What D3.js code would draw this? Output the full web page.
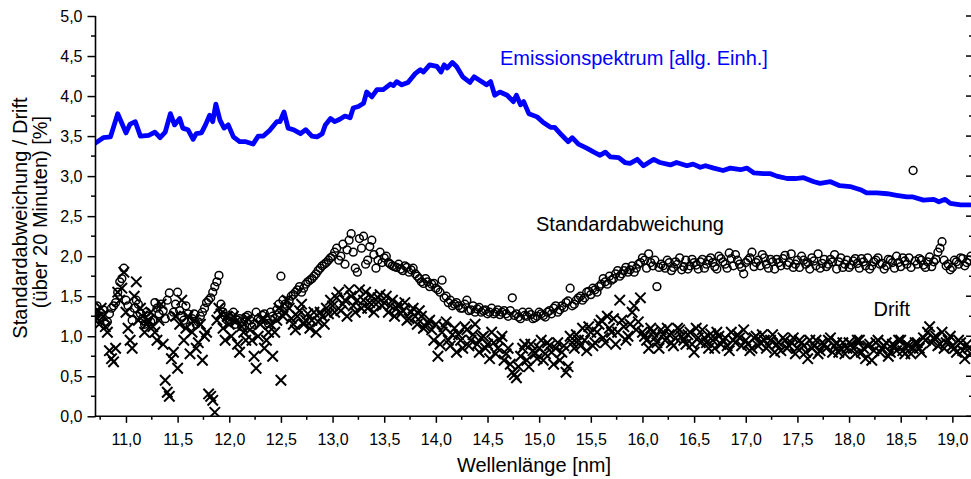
<!DOCTYPE html>
<html>
<head>
<meta charset="utf-8">
<script src="https://cdn.jsdelivr.net/npm/d3@7"></script>
<style>
  html, body { margin: 0; padding: 0; background: #fff; }
  svg { display: block; font-family: "Liberation Sans", Arial, sans-serif; }
</style>
</head>
<body>
<svg id="chart" width="971" height="479"></svg>
<script>
// Emission spectrum (arbitrary units, plotted on the same % scale)
const emissionWavelength = [10.70,10.78,10.85,10.92,10.96,11.00,11.04,11.09,11.14,11.22,11.28,11.33,11.38,11.43,11.47,11.52,11.55,11.60,11.65,11.68,11.73,11.77,11.81,11.84,11.87,11.91,11.95,11.99,12.04,12.10,12.16,12.23,12.28,12.33,12.39,12.46,12.49,12.53,12.57,12.62,12.69,12.74,12.80,12.85,12.90,12.93,12.98,13.02,13.07,13.12,13.17,13.20,13.25,13.30,13.33,13.38,13.43,13.49,13.56,13.59,13.62,13.67,13.73,13.80,13.85,13.88,13.94,14.01,14.05,14.08,14.11,14.16,14.20,14.26,14.33,14.37,14.43,14.49,14.53,14.57,14.62,14.69,14.75,14.78,14.82,14.85,14.90,14.98,15.04,15.11,15.15,15.22,15.28,15.32,15.38,15.46,15.53,15.59,15.64,15.69,15.77,15.83,15.88,15.95,16.01,16.06,16.11,16.17,16.27,16.33,16.43,16.49,16.56,16.61,16.69,16.78,16.85,16.95,17.01,17.08,17.17,17.24,17.30,17.40,17.48,17.56,17.66,17.72,17.82,17.91,18.01,18.11,18.17,18.27,18.37,18.46,18.56,18.62,18.72,18.82,18.87,18.93,18.98,19.08,19.17];
const emissionValue = [3.41,3.48,3.49,3.78,3.66,3.54,3.65,3.68,3.50,3.51,3.55,3.48,3.55,3.78,3.64,3.72,3.60,3.58,3.46,3.53,3.54,3.64,3.76,3.68,3.90,3.70,3.60,3.64,3.49,3.43,3.43,3.40,3.50,3.50,3.57,3.68,3.68,3.80,3.60,3.58,3.53,3.58,3.50,3.49,3.53,3.64,3.72,3.68,3.71,3.75,3.73,3.85,3.87,3.91,4.05,3.99,4.08,4.08,4.15,4.13,4.18,4.14,4.17,4.28,4.33,4.30,4.39,4.37,4.30,4.39,4.35,4.42,4.37,4.24,4.17,4.24,4.19,4.14,4.18,4.01,4.05,4.01,3.93,4.01,3.89,3.93,3.78,3.74,3.67,3.61,3.61,3.51,3.43,3.48,3.40,3.35,3.30,3.26,3.30,3.24,3.23,3.17,3.16,3.21,3.13,3.17,3.21,3.17,3.14,3.17,3.13,3.15,3.11,3.13,3.10,3.07,3.10,3.08,3.10,3.04,3.03,3.03,3.00,2.97,2.97,2.98,2.93,2.91,2.93,2.88,2.87,2.83,2.79,2.79,2.78,2.76,2.74,2.74,2.70,2.71,2.68,2.71,2.66,2.64,2.64];

// Measured points lie on two interleaved regular wavelength grids
const sampleStart = 10.70;
const midStart = 10.72;
const sampleStep = 0.04;

// Standard deviation over 20 minutes [%], main grid
const stdDev = [1.30,1.22,1.33,1.18,1.35,1.42,1.68,1.85,1.38,1.20,1.45,1.28,1.15,1.25,1.20,1.35,1.40,1.22,1.54,1.30,1.55,1.25,1.38,1.12,1.28,1.18,1.30,1.42,1.48,1.62,1.76,1.30,1.20,1.25,1.15,1.22,1.18,1.26,1.12,1.30,1.20,1.28,1.16,1.25,1.33,1.75,1.40,1.45,1.52,1.58,1.55,1.65,1.70,1.75,1.82,1.88,1.92,1.98,2.05,1.95,2.15,2.08,2.28,1.85,2.22,2.25,1.95,2.20,1.85,2.05,1.98,1.92,1.88,1.86,1.84,1.88,1.80,1.85,1.75,1.68,1.72,1.62,1.66,1.58,1.70,1.50,1.45,1.40,1.38,1.35,1.45,1.33,1.30,1.36,1.32,1.28,1.35,1.30,1.27,1.32,1.25,1.48,1.28,1.22,1.26,1.30,1.22,1.25,1.28,1.24,1.32,1.35,1.30,1.38,1.42,1.60,1.40,1.48,1.45,1.55,1.52,1.58,1.62,1.72,1.65,1.70,1.78,1.75,1.82,1.80,1.88,1.85,1.92,1.95,2.03,1.88,1.62,1.90,1.85,1.92,1.86,1.90,1.83,1.95,1.88,1.92,1.84,1.96,1.90,1.98,1.87,2.00,1.93,1.85,1.97,2.02,1.90,1.78,1.95,2.05,1.92,1.88,1.98,1.85,1.93,1.96,1.88,2.01,1.92,1.86,1.95,2.00,1.90,1.84,1.94,2.03,1.91,1.87,1.96,2.02,1.93,1.86,1.95,1.89,1.97,1.85,1.93,1.98,1.88,1.95,1.90,1.84,1.96,1.92,2.00,1.87,1.94,1.98,3.07,1.90,1.95,1.86,1.99,1.93,2.05,2.18,1.88,1.83,1.95,1.90,1.97,1.92,2.00];
// Standard deviation, interleaved grid
const stdDevMid = [1.38,1.25,1.15,1.28,1.38,1.55,1.72,1.45,1.30,1.35,1.40,1.22,1.30,1.18,1.42,1.28,1.32,1.45,1.25,1.40,1.32,1.20,1.28,1.22,1.15,1.25,1.35,1.45,1.55,1.68,1.40,1.25,1.18,1.30,1.20,1.12,1.24,1.20,1.15,1.22,1.26,1.20,1.30,1.22,1.40,1.45,1.38,1.50,1.55,1.62,1.60,1.68,1.72,1.78,1.85,1.90,1.95,2.00,2.10,2.00,1.90,2.20,2.05,1.80,2.10,1.90,2.12,2.02,1.95,1.92,2.00,1.90,1.87,1.90,1.82,1.86,1.83,1.78,1.72,1.66,1.68,1.65,1.60,1.55,1.48,1.42,1.38,1.42,1.35,1.40,1.32,1.38,1.34,1.30,1.33,1.30,1.28,1.33,1.30,1.28,1.32,1.26,1.24,1.30,1.25,1.27,1.23,1.30,1.26,1.30,1.28,1.38,1.33,1.36,1.44,1.38,1.45,1.50,1.48,1.56,1.60,1.55,1.65,1.68,1.75,1.72,1.82,1.78,1.86,1.83,1.80,1.90,1.98,1.85,1.92,1.95,1.86,1.88,1.95,1.82,1.93,1.98,1.87,1.84,1.96,1.89,1.93,1.85,1.95,1.92,1.84,1.97,1.90,2.04,1.88,1.95,1.86,1.92,1.98,1.87,1.95,2.02,1.90,1.96,1.84,1.92,1.97,1.89,2.03,1.90,1.86,1.95,1.92,1.98,1.88,1.85,1.96,1.90,1.93,1.84,1.98,1.90,1.86,1.94,1.91,1.97,1.88,1.84,1.93,1.98,1.91,1.88,1.95,1.85,1.92,1.98,1.90,1.86,1.94,1.97,1.89,1.93,1.87,1.96,2.10,1.95,1.90,1.86,1.93,1.98,1.88,1.95];

// Drift over 20 minutes [%], main grid
const drift = [1.30,1.15,1.25,1.05,0.72,0.85,1.45,1.80,1.10,0.85,1.68,1.35,1.05,1.20,1.12,0.95,1.40,0.45,0.25,0.80,0.60,1.45,1.10,0.78,1.20,0.92,0.70,1.05,0.25,0.05,1.35,1.10,1.25,1.00,1.18,0.80,1.05,1.22,0.95,0.60,1.15,0.85,1.05,0.75,1.20,0.45,1.30,1.35,1.15,1.25,1.40,1.20,1.10,1.30,1.18,1.25,1.35,1.45,1.30,1.55,1.40,1.25,1.50,1.30,1.58,1.45,1.35,1.50,1.40,1.52,1.42,1.30,1.45,1.35,1.28,1.42,1.22,1.35,1.15,1.25,1.12,1.20,0.95,0.75,1.05,1.18,0.88,1.10,1.02,0.85,1.08,0.95,1.15,0.80,1.00,0.90,1.05,0.78,0.95,0.70,0.85,0.55,0.48,0.75,0.90,0.62,0.82,0.72,0.95,0.78,0.88,0.65,0.92,0.80,0.55,1.00,0.85,0.95,1.10,0.82,1.05,0.92,1.15,0.98,1.25,1.05,0.90,1.45,1.12,1.00,1.30,1.08,1.48,1.00,0.85,1.05,0.92,1.08,0.95,1.02,0.88,1.10,1.00,0.90,1.05,0.80,0.98,1.08,0.92,1.03,0.85,1.00,0.95,0.88,1.05,0.92,0.98,1.08,0.90,0.85,1.00,0.92,0.95,0.88,1.02,0.90,0.82,0.95,0.88,0.98,0.85,0.92,0.80,0.95,0.88,0.78,0.92,0.85,0.98,0.88,0.80,0.92,0.85,0.90,0.78,0.95,0.85,0.88,0.70,0.92,0.80,0.88,0.75,0.90,0.82,0.95,0.78,0.88,0.85,0.92,0.80,0.95,1.12,0.98,0.88,1.05,0.92,1.00,0.85,0.95,0.82,0.90,0.78];
// Drift, interleaved grid
const driftMid = [1.22,1.35,1.12,0.82,0.68,1.55,1.60,1.30,0.95,1.50,1.20,1.25,1.15,1.30,1.05,1.20,0.90,0.30,0.72,1.25,1.15,0.95,1.25,1.05,0.85,1.15,1.00,0.28,0.20,1.20,1.28,0.95,1.15,1.25,0.90,1.12,0.95,1.08,0.75,1.00,1.22,0.95,1.15,1.05,1.35,1.25,1.45,1.22,1.08,1.32,1.15,1.28,1.20,1.05,1.30,1.15,1.28,1.38,1.48,1.32,1.45,1.58,1.38,1.45,1.35,1.55,1.42,1.30,1.48,1.38,1.50,1.38,1.25,1.40,1.32,1.20,1.30,1.25,1.32,1.10,1.18,1.08,1.15,0.90,1.12,0.95,1.02,0.80,0.95,1.12,0.88,1.02,0.90,0.98,0.85,0.72,0.92,0.85,1.00,0.78,0.65,0.52,0.62,0.85,0.70,0.90,0.78,0.85,0.70,0.92,0.80,0.85,0.70,0.88,0.62,0.92,1.02,0.88,0.95,1.12,0.88,1.05,1.20,0.92,1.10,1.22,1.05,1.20,0.95,1.15,1.38,1.18,1.05,0.95,1.10,0.98,0.85,1.02,1.10,0.92,0.98,1.08,0.95,1.02,0.90,1.10,0.92,0.98,0.85,0.95,1.05,0.90,0.98,0.82,0.95,1.02,0.88,0.95,0.82,0.98,0.88,1.02,0.85,0.95,0.80,0.92,0.98,0.85,0.92,0.78,0.95,0.88,0.72,0.85,0.95,0.82,0.90,0.95,0.80,0.92,0.85,0.78,0.92,0.85,0.95,0.80,0.72,0.90,0.82,0.95,0.85,0.92,0.80,0.88,0.95,0.82,0.90,0.78,0.92,0.85,0.98,1.05,0.92,1.00,0.90,0.85,0.95,0.88,0.80,0.92,0.72,0.85];

const xTickValues = [11.0,11.5,12.0,12.5,13.0,13.5,14.0,14.5,15.0,15.5,16.0,16.5,17.0,17.5,18.0,18.5,19.0];
const yTickValues = [0.0,0.5,1.0,1.5,2.0,2.5,3.0,3.5,4.0,4.5,5.0];

const svg = d3.select("#chart");
const plotLeft = 95.5, plotRight = 972.5, plotTop = 16, plotBottom = 416.3;

const x = d3.scaleLinear().domain([10.705, 19.195]).range([plotLeft, plotRight]);
const y = d3.scaleLinear().domain([0, 5]).range([plotBottom, plotTop]);

const de = d3.formatLocale({ decimal: ",", thousands: ".", grouping: [3], currency: ["", " €"] });
const fmt = de.format(".1f");

const xMinor = d3.range(10.75, 19.2, 0.5);
const yMinor = d3.range(0.25, 5, 0.5);

// clip region for the data
svg.append("defs").append("clipPath").attr("id", "plotclip")
  .append("rect").attr("x", plotLeft).attr("y", plotTop - 10)
  .attr("width", plotRight - plotLeft).attr("height", plotBottom - plotTop + 10);

const plot = svg.append("g").attr("clip-path", "url(#plotclip)");

const samples = stdDev.map((v, i) => ({ w: sampleStart + i * sampleStep, s: v, d: drift[i] }))
  .concat(stdDevMid.map((v, i) => ({ w: midStart + i * sampleStep, s: v, d: driftMid[i] })));

// Drift: crosses
const cs = 5.2;
plot.append("g").selectAll("path").data(samples).join("path")
  .attr("d", d => {
    const cx = x(d.w), cy = y(d.d);
    return `M${cx - cs},${cy - cs}L${cx + cs},${cy + cs}M${cx - cs},${cy + cs}L${cx + cs},${cy - cs}`;
  })
  .attr("stroke", "#000").attr("stroke-width", 2).attr("fill", "none");

// Standard deviation: open circles
plot.append("g").selectAll("circle").data(samples).join("circle")
  .attr("cx", d => x(d.w)).attr("cy", d => y(d.s)).attr("r", 3.9)
  .attr("fill", "none").attr("stroke", "#000").attr("stroke-width", 1.5);

// Emission spectrum line
const line = d3.line().x(d => x(d[0])).y(d => y(d[1]));
plot.append("path")
  .datum(emissionWavelength.map((w, i) => [w, emissionValue[i]]))
  .attr("d", line)
  .attr("fill", "none").attr("stroke", "#0000ff").attr("stroke-width", 4.8)
  .attr("stroke-linejoin", "round").attr("stroke-linecap", "round");

// Bottom axis
const xAxis = svg.append("g").attr("transform", `translate(0,${plotBottom})`);
xAxis.call(d3.axisBottom(x).tickValues(xTickValues).tickFormat(fmt).tickSize(6.5).tickPadding(11))
  .call(g => g.select(".domain").remove());
xAxis.selectAll(".tick line").attr("stroke-width", 1.5);
xAxis.selectAll(".tick text").attr("font-size", 16).attr("fill", "#000").attr("font-family", "Liberation Sans, Arial, sans-serif");
xAxis.append("g").selectAll("line").data(xMinor).join("line")
  .attr("x1", d => x(d)).attr("x2", d => x(d)).attr("y1", 0).attr("y2", 3.5)
  .attr("stroke", "#000").attr("stroke-width", 1.5);
xAxis.append("line").attr("x1", plotLeft - 0.75).attr("x2", plotRight).attr("stroke", "#000").attr("stroke-width", 1.6);

// Left axis
const yAxis = svg.append("g").attr("transform", `translate(${plotLeft},0)`);
yAxis.call(d3.axisLeft(y).tickValues(yTickValues).tickFormat(fmt).tickSize(8).tickPadding(5))
  .call(g => g.select(".domain").remove());
yAxis.selectAll(".tick line").attr("stroke-width", 1.5);
yAxis.selectAll(".tick text").attr("font-size", 16).attr("fill", "#000").attr("font-family", "Liberation Sans, Arial, sans-serif");
yAxis.append("g").selectAll("line").data(yMinor).join("line")
  .attr("y1", d => y(d)).attr("y2", d => y(d)).attr("x1", 0).attr("x2", -4.5)
  .attr("stroke", "#000").attr("stroke-width", 1.5);
yAxis.append("line").attr("y1", plotTop).attr("y2", plotBottom + 0.75).attr("stroke", "#000").attr("stroke-width", 1.6);

// Right axis: inward ticks only (axis line sits at the edge)
const rAxis = svg.append("g").attr("transform", `translate(${plotRight},0)`);
rAxis.append("g").selectAll("line").data(yTickValues).join("line")
  .attr("y1", d => y(d)).attr("y2", d => y(d)).attr("x1", 0).attr("x2", -6.5)
  .attr("stroke", "#000").attr("stroke-width", 1.5);
rAxis.append("g").selectAll("line").data(yMinor).join("line")
  .attr("y1", d => y(d)).attr("y2", d => y(d)).attr("x1", 0).attr("x2", -3.5)
  .attr("stroke", "#000").attr("stroke-width", 1.5);
rAxis.append("line").attr("y1", plotTop).attr("y2", plotBottom).attr("stroke", "#000").attr("stroke-width", 1.6);

// Axis titles
svg.append("text").attr("x", (plotLeft + plotRight) / 2).attr("y", 472)
  .attr("text-anchor", "middle").attr("font-size", 20).attr("fill", "#000")
  .text("Wellenlänge [nm]");

svg.append("text").attr("transform", "translate(27,218) rotate(-90)")
  .attr("text-anchor", "middle").attr("font-size", 20).attr("fill", "#000")
  .text("Standardabweichung / Drift");
svg.append("text").attr("transform", "translate(47,212) rotate(-90)")
  .attr("text-anchor", "middle").attr("font-size", 20).attr("fill", "#000")
  .text("(über 20 Minuten) [%]");

// Series labels
svg.append("text").attr("x", 500).attr("y", 65).attr("font-size", 20).attr("fill", "#0000ff")
  .text("Emissionspektrum [allg. Einh.]");
svg.append("text").attr("x", 536).attr("y", 231).attr("font-size", 20).attr("fill", "#000")
  .text("Standardabweichung");
svg.append("text").attr("x", 873.5).attr("y", 316).attr("font-size", 20).attr("fill", "#000")
  .text("Drift");
</script>
</body>
</html>
